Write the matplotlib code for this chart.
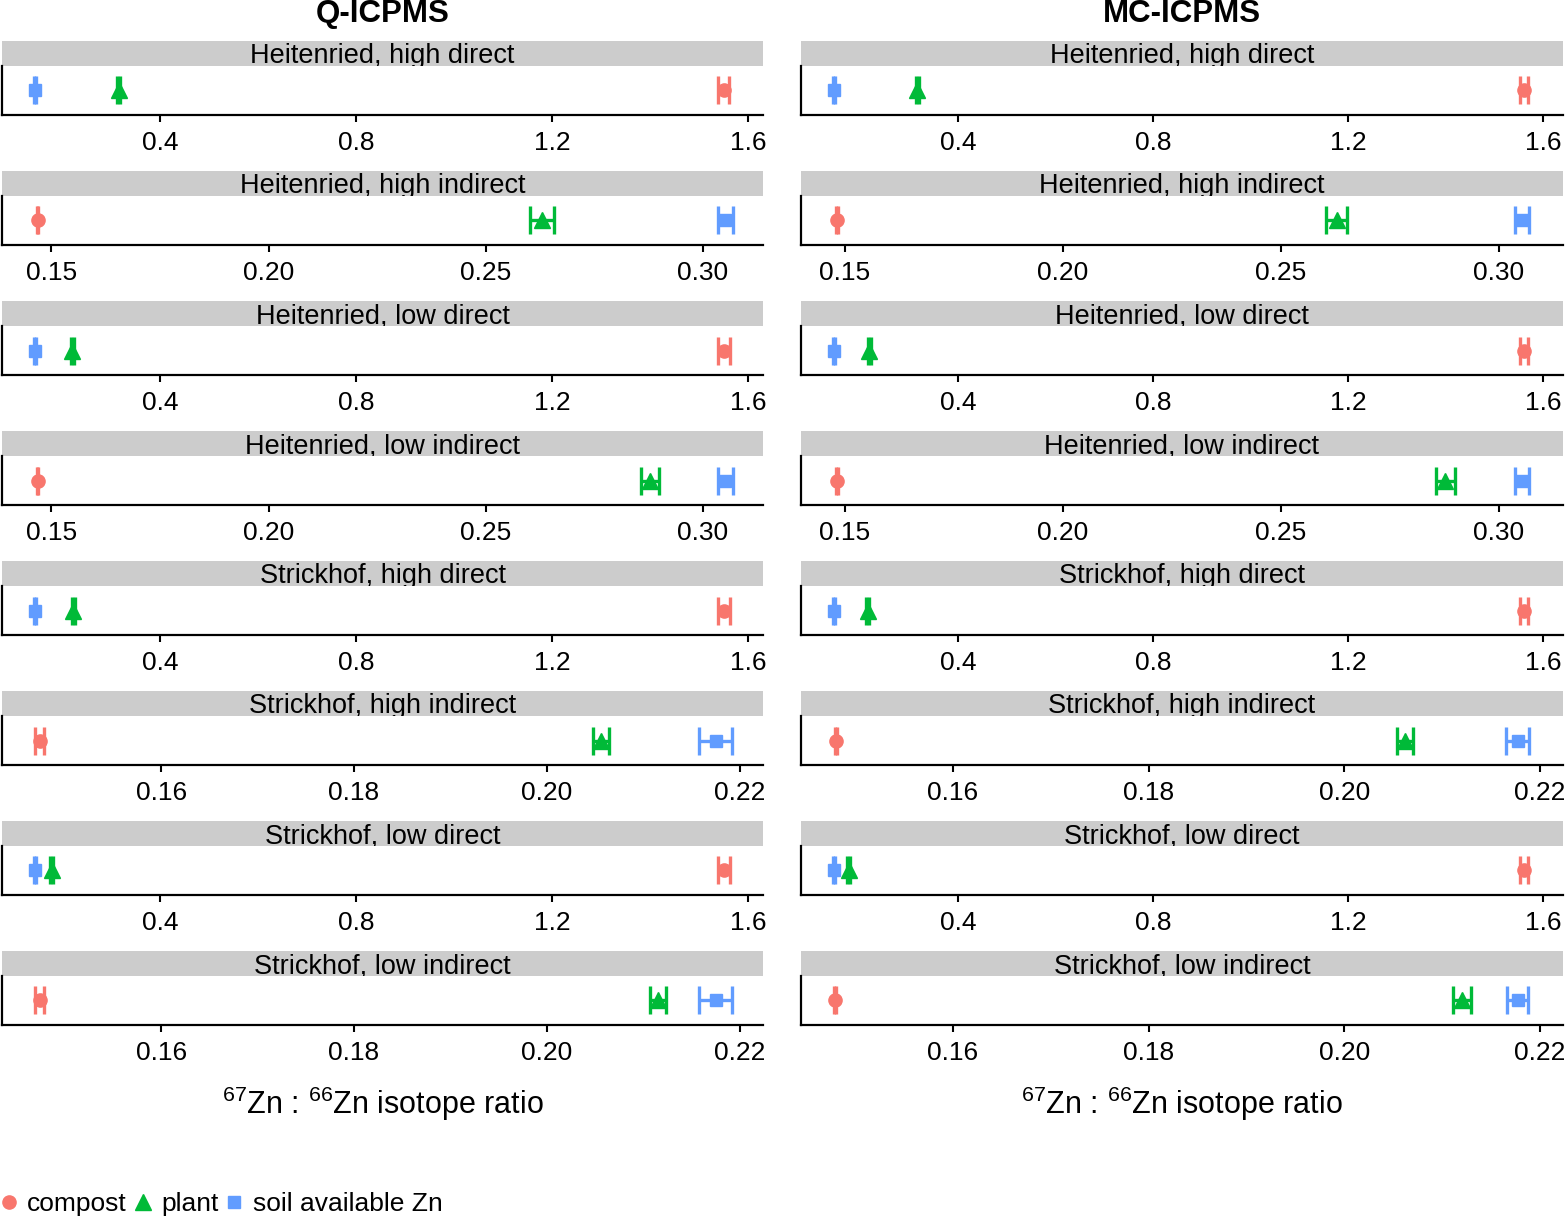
import matplotlib
matplotlib.use("Agg")
import matplotlib.pyplot as plt
from matplotlib.lines import Line2D

plt.rcParams['font.family'] = ['Liberation Sans', 'DejaVu Sans']
plt.rcParams['mathtext.fontset'] = 'custom'
plt.rcParams['mathtext.rm'] = 'Liberation Sans'
plt.rcParams['mathtext.it'] = 'Liberation Sans:italic'
plt.rcParams['mathtext.bf'] = 'Liberation Sans:bold'

# ---------------- data ----------------
panels = ["Heitenried, high direct", "Heitenried, high indirect",
          "Heitenried, low direct", "Heitenried, low indirect",
          "Strickhof, high direct", "Strickhof, high indirect",
          "Strickhof, low direct", "Strickhof, low indirect"]
methods = ["Q-ICPMS", "MC-ICPMS"]
groups = ["compost", "plant", "soil available Zn"]

# Q-ICPMS
q_compost = [1.550, 0.1468, 1.551, 0.1468, 1.551, 0.1474, 1.551, 0.1474]
q_compost_err = [0.012, 0.0002, 0.012, 0.0002, 0.012, 0.0005, 0.012, 0.0005]
q_plant = [0.316, 0.2630, 0.2214, 0.2879, 0.2235, 0.2056, 0.179, 0.2115]
q_plant_err = [0.003, 0.0028, 0.003, 0.0021, 0.003, 0.0008, 0.003, 0.0008]
q_soil = [0.145, 0.3052, 0.145, 0.3052, 0.145, 0.2175, 0.145, 0.2175]
q_soil_err = [0.002, 0.0017, 0.002, 0.0017, 0.002, 0.0017, 0.002, 0.0017]

# MC-ICPMS
mc_compost = [1.561, 0.1481, 1.561, 0.1481, 1.561, 0.1480, 1.561, 0.1479]
mc_compost_err = [0.0072, 0.0002, 0.0072, 0.0002, 0.0072, 0.0001, 0.0072, 0.0001]
mc_plant = [0.3168, 0.2628, 0.2178, 0.2877, 0.2150, 0.2062, 0.176, 0.2120]
mc_plant_err = [0.003, 0.0024, 0.003, 0.0022, 0.003, 0.0008, 0.003, 0.0009]
mc_soil = [0.1455, 0.3053, 0.1455, 0.3053, 0.1455, 0.2177, 0.1455, 0.2177]
mc_soil_err = [0.002, 0.0016, 0.002, 0.0016, 0.002, 0.0012, 0.002, 0.0011]

# axis scales per panel type
ticks_direct = [0.4, 0.8, 1.2, 1.6]
ticklabels_direct = ["0.4", "0.8", "1.2", "1.6"]
ticks_hind = [0.15, 0.20, 0.25, 0.30]
ticklabels_hind = ["0.15", "0.20", "0.25", "0.30"]
ticks_sind = [0.16, 0.18, 0.20, 0.22]
ticklabels_sind = ["0.16", "0.18", "0.20", "0.22"]

q_lims = {"direct": (0.0776, 1.6306), "hind": (0.1386, 0.3139), "sind": (0.1435, 0.2224)}
mc_lims = {"direct": (0.0780, 1.6410), "hind": (0.1399, 0.3147), "sind": (0.14446, 0.22235)}

colors = {"compost": "#F8766D", "plant": "#00BA38", "soil available Zn": "#619CFF"}
markers = {"compost": "o", "plant": "^", "soil available Zn": "s"}
msizes = {"compost": 9.5, "plant": 12, "soil available Zn": 8.5}

data = {
    "Q-ICPMS": {"compost": (q_compost, q_compost_err), "plant": (q_plant, q_plant_err),
                "soil available Zn": (q_soil, q_soil_err), "lims": q_lims},
    "MC-ICPMS": {"compost": (mc_compost, mc_compost_err), "plant": (mc_plant, mc_plant_err),
                 "soil available Zn": (mc_soil, mc_soil_err), "lims": mc_lims},
}

# ---------------- layout ----------------
W, H = 1566, 1219
fig = plt.figure(figsize=(W / 100, H / 100), dpi=100)


def add_px(x0, y0, x1, y1):
    return fig.add_axes([x0 / W, 1 - y1 / H, (x1 - x0) / W, (y1 - y0) / H])


col_x = {"Q-ICPMS": (2, 763), "MC-ICPMS": (801, 1563)}

for m in methods:
    x0, x1 = col_x[m]
    fig.text((x0 + x1) / 2 / W, 1 - 14 / H, m, ha='center', va='center',
             fontsize=22.5, fontweight='bold')
    for i, p in enumerate(panels):
        top = 41 + 130 * i
        # strip
        sax = add_px(x0, top, x1, top + 25)
        sax.set_facecolor('#CCCCCC')
        for s in sax.spines.values():
            s.set_visible(False)
        sax.set_xticks([])
        sax.set_yticks([])
        sax.text(0.5, 0.11, p, transform=sax.transAxes, ha='center', va='baseline',
                 fontsize=19.5, clip_on=True)
        # panel
        ax = add_px(x0, top + 25, x1, top + 74)
        if "indirect" in p:
            if p.startswith("Heitenried"):
                kind, tk, tl = "hind", ticks_hind, ticklabels_hind
            else:
                kind, tk, tl = "sind", ticks_sind, ticklabels_sind
        else:
            kind, tk, tl = "direct", ticks_direct, ticklabels_direct
        for g in groups:
            vals, errs = data[m][g]
            ax.errorbar([vals[i]], [1], xerr=[errs[i]], fmt=markers[g], color=colors[g],
                        ms=msizes[g], mec=colors[g], capsize=10, elinewidth=2.4,
                        capthick=2.4, clip_on=False)
        ax.set_xlim(*data[m]["lims"][kind])
        ax.set_ylim(0.4, 1.6)
        ax.set_xticks(tk)
        ax.set_xticklabels(tl)
        ax.set_yticks([])
        ax.spines['top'].set_visible(False)
        ax.spines['right'].set_visible(False)
        ax.spines['left'].set_linewidth(1.6)
        ax.spines['bottom'].set_linewidth(1.6)
        ax.tick_params(axis='x', direction='out', length=5, width=1.5, labelsize=19, pad=6.5)
    fig.text((x0 + x1) / 2 / W, 1 - 1104 / H, r"$^{67}$Zn : $^{66}$Zn isotope ratio",
             ha='center', va='center', fontsize=22)

handles = [Line2D([], [], ls='none', marker=markers[g], color=colors[g], ms=msizes[g])
           for g in groups]
fig.legend(handles, groups, loc='center left', bbox_to_anchor=(-2 / W, 1 - 1204 / H),
           ncol=3, frameon=False, fontsize=19, handlelength=0.8, handletextpad=0.3,
           columnspacing=0.2, borderaxespad=0, borderpad=0)

fig.savefig("out.png", dpi=100)
